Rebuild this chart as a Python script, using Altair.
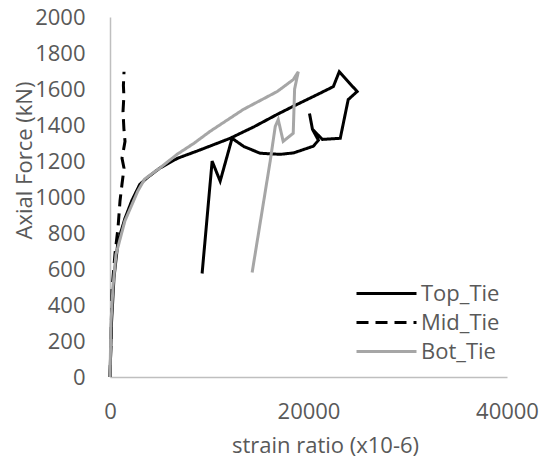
import altair as alt
import pandas as pd

series = ["Top_Tie", "Mid_Tie", "Bot_Tie"]

top_x = [0, 150, 400, 800, 1500, 2200, 3000, 3700, 5000, 6800, 9000, 12100, 14500, 16850, 18500, 20480,
         22500, 23100, 24900, 24000, 23200, 21400, 20400, 20100, 20400, 21000, 20480, 18500, 17150,
         15130, 13500, 12300, 11100, 10290, 9280]
top_y = [0, 300, 550, 750, 880, 980, 1070, 1105, 1160, 1215, 1260, 1326, 1390, 1459, 1505, 1558,
         1613, 1696, 1586, 1541, 1326, 1320, 1376, 1464, 1376, 1315, 1282, 1245, 1237,
         1243, 1280, 1326, 1088, 1199, 575]

mid_x = [0, 100, 200, 504, 807, 1009, 1210, 1412, 1210, 1513, 1400, 1311, 1400, 1350, 1412]
mid_y = [0, 200, 481, 685, 829, 978, 1072, 1160, 1215, 1309, 1380, 1475, 1560, 1620, 1696]

bot_x = [0, 100, 300, 600, 1500, 2800, 3500, 5000, 6760, 8500, 10090, 13420, 16850, 18460, 18970,
         18600, 18460, 17450, 16950, 16650, 16140, 14320]
bot_y = [0, 300, 500, 680, 867, 1033, 1100, 1160, 1237, 1300, 1365, 1486, 1586, 1652, 1696,
         1600, 1354, 1309, 1430, 1392, 1199, 580]

x_ticks = [0, 20000, 40000]
y_ticks = list(range(0, 2001, 200))

rows = []
for name, xs, ys in [("Top_Tie", top_x, top_y), ("Mid_Tie", mid_x, mid_y), ("Bot_Tie", bot_x, bot_y)]:
    for i, (xv, yv) in enumerate(zip(xs, ys)):
        rows.append({"series": name, "strain": xv, "force": yv, "order": i})
df = pd.DataFrame(rows)

FONT = "Open Sans"
TXT = "#595959"

legend_cfg = dict(title=None, orient="none", legendX=265, legendY=265,
                  symbolType="M-3,0H3", symbolSize=400, symbolStrokeWidth=3,
                  labelFont=FONT, labelFontSize=22, labelColor=TXT,
                  labelOffset=23, rowPadding=6, padding=0)

chart = alt.Chart(df).mark_line(strokeWidth=3, clip=False).encode(
    x=alt.X("strain:Q", scale=alt.Scale(domain=[0, 40000], nice=False),
            axis=alt.Axis(values=x_ticks, format="d", title="strain ratio (x10-6)", grid=False,
                          ticks=False, domainColor="#bfbfbf", domainWidth=1.5, labelFlush=False,
                          labelPadding=24, labelFontSize=22, labelColor=TXT, labelFont=FONT,
                          titleFont=FONT, titleFontSize=22, titleColor=TXT, titleFontWeight="normal",
                          titleX=215, titleY=75, titleBaseline="alphabetic", titleAlign="center")),
    y=alt.Y("force:Q", scale=alt.Scale(domain=[0, 2000], nice=False),
            axis=alt.Axis(values=y_ticks, format="d", title="Axial Force (kN)", grid=False,
                          ticks=False, domainColor="#bfbfbf", domainWidth=1.5, labelFlush=False,
                          labelPadding=25, labelFontSize=22, labelColor=TXT, labelFont=FONT,
                          titleFont=FONT, titleFontSize=22, titleColor=TXT, titleFontWeight="normal",
                          titleX=-86, titleY=143, titleBaseline="middle", titleAlign="center")),
    color=alt.Color("series:N", scale=alt.Scale(domain=series, range=["#000000", "#000000", "#a6a6a6"]),
                    legend=alt.Legend(**legend_cfg)),
    strokeDash=alt.StrokeDash("series:N", scale=alt.Scale(domain=series, range=[[1, 0], [12, 7], [1, 0]]),
                              legend=alt.Legend(**legend_cfg)),
    order="order:Q",
    detail="series:N",
).properties(
    width=397, height=360,
    padding={"left": 102, "top": 9, "right": 32, "bottom": 84},
    autosize="none",
).configure_view(stroke=None)

chart.save("out.html", embed_options={"renderer": "svg", "actions": False})
